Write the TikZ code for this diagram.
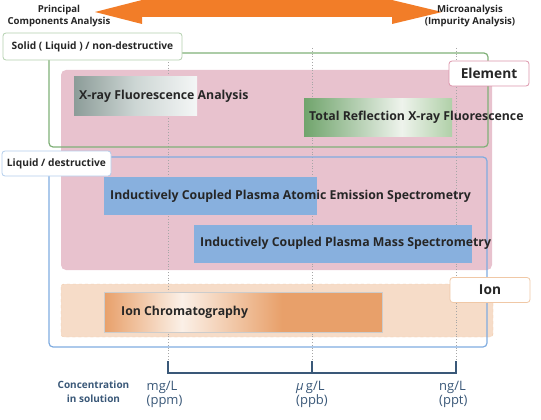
\documentclass[tikz,border=0pt]{standalone}
\usepackage{fontspec}
\setmainfont{Open Sans}
\usepackage{xcolor}
\usepackage{tikz}

\definecolor{arroworange}{RGB}{242,125,40}
\definecolor{solidgreen}{RGB}{128,176,120}
\definecolor{liquidblue}{RGB}{128,172,224}
\definecolor{elempink}{RGB}{232,194,206}
\definecolor{elemedge}{RGB}{220,150,172}
\definecolor{icpblue}{RGB}{136,176,222}
\definecolor{ionpeach}{RGB}{246,220,200}
\definecolor{ionedge}{RGB}{240,200,166}
\definecolor{icorange}{RGB}{232,160,106}
\definecolor{icwhite}{RGB}{251,240,231}
\definecolor{scaleblue}{RGB}{58,88,120}
\definecolor{textdark}{RGB}{38,38,38}
\definecolor{xrfdark}{RGB}{140,156,152}
\definecolor{xrfmid}{RGB}{205,214,212}
\definecolor{xrflight}{RGB}{244,246,246}
\definecolor{txrfdark}{RGB}{112,164,108}
\definecolor{txrfwhite}{RGB}{238,243,236}
\definecolor{txrflight}{RGB}{176,208,168}

\pgfdeclarehorizontalshading{xrfshade}{100bp}{color(0bp)=(xrfdark); color(25bp)=(xrfdark);
  color(50bp)=(xrfmid); color(75bp)=(xrflight); color(100bp)=(xrflight)}
\pgfdeclarehorizontalshading{txrfshade}{100bp}{color(0bp)=(txrfdark); color(25bp)=(txrfdark);
  color(58bp)=(txrfwhite); color(75bp)=(txrflight); color(100bp)=(txrflight)}
\pgfdeclarehorizontalshading{icshade}{100bp}{color(0bp)=(icorange); color(25bp)=(icorange);
  color(39bp)=(icwhite); color(57bp)=(icorange); color(100bp)=(icorange)}

\tikzset{
  method/.style={anchor=west, inner sep=0, text=textdark, font=\bfseries\fontsize{12.3}{14}\selectfont},
  catbox/.style={fill=white, rounded corners=3, line width=0.8, inner sep=0,
    text=textdark, font=\bfseries\fontsize{10.2}{12}\selectfont},
  kindbox/.style={catbox, minimum width=80, minimum height=25, font=\bfseries\fontsize{13.7}{15}\selectfont},
  rangetext/.style={align=center, inner sep=0, text=textdark, font=\bfseries\fontsize{9.6}{12}\selectfont},
  unit/.style={anchor=west, align=left, inner sep=0, text=scaleblue, font=\fontsize{13}{14}\selectfont}
}

\begin{document}
\begin{tikzpicture}[x=1pt,y=-1pt]
\useasboundingbox (0,0) rectangle (541,420);

\fill[color=elempink, rounded corners=5] (61,70) rectangle (492,270);
\draw[fill=ionpeach, draw=ionedge, dashed, line width=0.4, rounded corners=3] (61,284) rectangle (493,337);

\foreach \x in {168,312,456}
  \draw[color=black!35!white, dotted, line width=0.8] (\x,48)--(\x,361);

\draw[color=solidgreen, line width=1.2, rounded corners=4] (49,53) rectangle (488,147);
\draw[color=liquidblue, line width=1.2, rounded corners=4] (49,157) rectangle (487,347);

% method bars
\shade[shading=xrfshade] (74,77) rectangle (197,115);
\shade[shading=txrfshade] (304,98) rectangle (452,136);
\fill[color=icpblue] (104,177) rectangle (317,215);
\fill[color=icpblue] (194,225) rectangle (472,263);
\shade[shading=icshade, draw=black!20!white, line width=0.5] (104,292) rectangle (382,332);

\node[method] (xrf) at (79,96) {X-ray Fluorescence Analysis};
\node[method] (txrf) at (309,117) {Total Reflection X-ray Fluorescence};
\node[method] (icpaes) at (110,196) {Inductively Coupled Plasma Atomic Emission Spectrometry};
\node[method] (icpms) at (200,243) {Inductively Coupled Plasma Mass Spectrometry};
\node[method] (ic) at (121,312) {Ion Chromatography};

% sample and target labels
\node[catbox, draw=solidgreen!60!white, minimum width=179, minimum height=27] (solid) at (92.5,46.5) {Solid ( Liquid ) / non-destructive};
\node[catbox, draw=liquidblue!60!white, minimum width=109, minimum height=25] (liquid) at (56.5,163.5) {Liquid / destructive};
\node[kindbox, draw=elemedge] (element) at (489,73.5) {Element};
\node[kindbox, draw=ionedge] (ion) at (490,290) {Ion};

% analysis range
\fill[color=arroworange] (95,12)--(142,0)--(392,0)--(442,12)--(392,24)--(392,17)--(142,17)--(142,24)--cycle;
\node[rangetext] (principal) at (59,16.4) {Principal\\Components Analysis};
\node[rangetext] (micro) at (470,16.4) {Microanalysis\\(Impurity Analysis)};

% concentration scale
\draw[color=scaleblue, line width=1.5] (168,361)--(168,373)--(456,373)--(456,361);
\draw[color=scaleblue, line width=1.5] (312,361)--(312,373);
\node[align=center, inner sep=0, text=scaleblue, font=\bfseries\fontsize{10}{14.7}\selectfont] (conc) at (93.5,391.7) {Concentration\\in solution};
\node[unit] (ppm) at (146.5,394.6) {mg/L\\(ppm)};
\node[unit] (ppb) at (296,394.6) {\textit{μ}\,g/L\\(ppb)};
\node[unit] (ppt) at (439,394.6) {ng/L\\(ppt)};

\end{tikzpicture}
\end{document}
